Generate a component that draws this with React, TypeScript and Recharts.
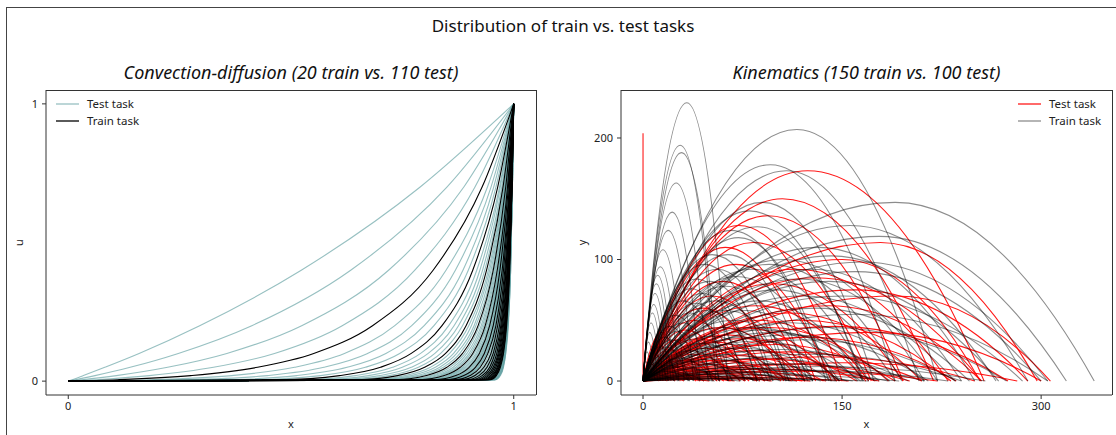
import { Line, LineChart, XAxis, YAxis } from "recharts";

// convection-diffusion: x position where each curve reaches these u levels
const CD_LEVELS = [0.005, 0.02, 0.05, 0.1, 0.2, 0.4, 0.7];

const CD_TEST = [
  [0.009, 0.034, 0.082, 0.159, 0.295, 0.523, 0.79],
  [0.016, 0.06, 0.139, 0.247, 0.412, 0.634, 0.85],
  [0.03, 0.108, 0.223, 0.356, 0.524, 0.719, 0.888],
  [0.059, 0.182, 0.326, 0.463, 0.615, 0.778, 0.913],
  [0.184, 0.367, 0.508, 0.62, 0.733, 0.848, 0.941],
  [0.267, 0.447, 0.574, 0.672, 0.771, 0.869, 0.949],
  [0.346, 0.513, 0.626, 0.713, 0.799, 0.886, 0.955],
  [0.414, 0.566, 0.667, 0.744, 0.821, 0.898, 0.96],
  [0.518, 0.644, 0.728, 0.791, 0.854, 0.917, 0.968],
  [0.559, 0.674, 0.75, 0.808, 0.866, 0.924, 0.97],
  [0.592, 0.699, 0.77, 0.823, 0.876, 0.93, 0.973],
  [0.622, 0.721, 0.786, 0.836, 0.885, 0.935, 0.975],
  [0.669, 0.756, 0.813, 0.856, 0.899, 0.943, 0.978],
  [0.688, 0.77, 0.824, 0.865, 0.905, 0.946, 0.979],
  [0.706, 0.783, 0.834, 0.872, 0.911, 0.949, 0.98],
  [0.721, 0.794, 0.842, 0.879, 0.915, 0.952, 0.981],
  [0.748, 0.814, 0.857, 0.89, 0.923, 0.956, 0.983],
  [0.759, 0.822, 0.864, 0.895, 0.927, 0.958, 0.984],
  [0.77, 0.83, 0.87, 0.9, 0.93, 0.96, 0.984],
  [0.779, 0.837, 0.875, 0.904, 0.933, 0.962, 0.985],
  [0.796, 0.85, 0.885, 0.911, 0.938, 0.965, 0.986],
  [0.804, 0.855, 0.889, 0.915, 0.94, 0.966, 0.987],
  [0.811, 0.86, 0.893, 0.918, 0.943, 0.967, 0.987],
  [0.817, 0.865, 0.897, 0.921, 0.945, 0.968, 0.988],
  [0.829, 0.874, 0.903, 0.926, 0.948, 0.97, 0.988],
  [0.834, 0.878, 0.906, 0.928, 0.95, 0.971, 0.989],
  [0.839, 0.881, 0.909, 0.93, 0.951, 0.972, 0.989],
  [0.844, 0.885, 0.912, 0.932, 0.953, 0.973, 0.99],
  [0.853, 0.891, 0.917, 0.936, 0.955, 0.975, 0.99],
  [0.857, 0.894, 0.919, 0.938, 0.957, 0.975, 0.99],
  [0.861, 0.897, 0.921, 0.939, 0.958, 0.976, 0.991],
  [0.864, 0.9, 0.923, 0.941, 0.959, 0.977, 0.991],
  [0.874, 0.907, 0.929, 0.945, 0.962, 0.978, 0.991],
  [0.88, 0.911, 0.932, 0.948, 0.963, 0.979, 0.992],
  [0.887, 0.917, 0.936, 0.951, 0.966, 0.981, 0.992],
  [0.892, 0.92, 0.939, 0.953, 0.967, 0.981, 0.993],
  [0.898, 0.925, 0.942, 0.956, 0.969, 0.982, 0.993],
  [0.902, 0.928, 0.945, 0.957, 0.97, 0.983, 0.993],
  [0.907, 0.931, 0.947, 0.96, 0.972, 0.984, 0.994],
  [0.91, 0.934, 0.949, 0.961, 0.973, 0.984, 0.994],
  [0.915, 0.937, 0.952, 0.963, 0.974, 0.985, 0.994],
  [0.917, 0.939, 0.953, 0.964, 0.975, 0.986, 0.994],
  [0.921, 0.942, 0.955, 0.966, 0.976, 0.986, 0.995],
  [0.923, 0.943, 0.957, 0.967, 0.977, 0.987, 0.995],
  [0.926, 0.946, 0.958, 0.968, 0.978, 0.987, 0.995],
  [0.928, 0.947, 0.96, 0.969, 0.978, 0.988, 0.995],
  [0.931, 0.949, 0.961, 0.97, 0.979, 0.988, 0.995],
  [0.933, 0.95, 0.962, 0.971, 0.98, 0.988, 0.995],
  [0.935, 0.952, 0.963, 0.972, 0.98, 0.989, 0.996],
  [0.937, 0.953, 0.964, 0.973, 0.981, 0.989, 0.996],
  [0.939, 0.955, 0.966, 0.974, 0.982, 0.989, 0.996],
  [0.94, 0.956, 0.966, 0.974, 0.982, 0.99, 0.996],
  [0.942, 0.957, 0.967, 0.975, 0.983, 0.99, 0.996],
  [0.944, 0.958, 0.968, 0.976, 0.983, 0.99, 0.996],
  [0.945, 0.96, 0.969, 0.976, 0.983, 0.991, 0.996],
  [0.946, 0.96, 0.97, 0.977, 0.984, 0.991, 0.996],
  [0.949, 0.962, 0.971, 0.978, 0.984, 0.991, 0.997],
  [0.95, 0.963, 0.972, 0.978, 0.985, 0.991, 0.997],
  [0.952, 0.965, 0.973, 0.979, 0.986, 0.992, 0.997],
  [0.954, 0.966, 0.974, 0.98, 0.986, 0.992, 0.997],
  [0.955, 0.967, 0.975, 0.981, 0.986, 0.992, 0.997],
  [0.957, 0.968, 0.976, 0.981, 0.987, 0.993, 0.997],
  [0.958, 0.969, 0.976, 0.982, 0.987, 0.993, 0.997],
  [0.959, 0.97, 0.977, 0.982, 0.988, 0.993, 0.997],
];

const CD_TRAIN = [
  [0.11, 0.275, 0.425, 0.551, 0.683, 0.819, 0.929],
  [0.471, 0.609, 0.701, 0.77, 0.839, 0.908, 0.964],
  [0.647, 0.739, 0.8, 0.847, 0.893, 0.939, 0.976],
  [0.735, 0.804, 0.85, 0.885, 0.92, 0.954, 0.982],
  [0.788, 0.844, 0.88, 0.908, 0.936, 0.963, 0.986],
  [0.823, 0.87, 0.9, 0.923, 0.946, 0.969, 0.988],
  [0.849, 0.888, 0.914, 0.934, 0.954, 0.974, 0.99],
  [0.868, 0.902, 0.925, 0.942, 0.96, 0.977, 0.991],
  [0.882, 0.913, 0.933, 0.949, 0.964, 0.98, 0.992],
  [0.894, 0.922, 0.94, 0.954, 0.968, 0.982, 0.993],
  [0.904, 0.929, 0.946, 0.958, 0.971, 0.983, 0.994],
  [0.912, 0.935, 0.95, 0.962, 0.973, 0.985, 0.994],
  [0.918, 0.94, 0.954, 0.965, 0.975, 0.986, 0.995],
  [0.924, 0.944, 0.957, 0.967, 0.977, 0.987, 0.995],
  [0.929, 0.948, 0.96, 0.969, 0.979, 0.988, 0.995],
  [0.934, 0.951, 0.963, 0.971, 0.98, 0.989, 0.996],
  [0.938, 0.954, 0.965, 0.973, 0.981, 0.989, 0.996],
  [0.941, 0.957, 0.967, 0.974, 0.982, 0.99, 0.996],
  [0.944, 0.959, 0.968, 0.976, 0.983, 0.99, 0.996],
  [0.947, 0.961, 0.97, 0.977, 0.984, 0.991, 0.996],
];

// kinematics: [apex x, apex y, landing x]
const KIN_TRAIN = [
  [33, 229, 64], [28, 194, 55], [29, 188, 57], [25, 163, 49], [22, 139, 43], [19, 124, 38],
  [15, 108, 31], [13, 94, 27], [11, 87, 23], [10, 80, 21], [9, 72, 19], [8, 63, 17],
  [7, 56, 15], [6, 48, 13], [5, 40, 11], [4, 32, 9], [3, 24, 7], [2, 16, 5],
  [116, 207, 222], [96, 178, 190], [108, 173, 208], [90, 147, 174], [86, 127, 166], [72, 118, 140],
  [64, 104, 124], [56, 92, 108], [50, 82, 96], [45, 72, 86], [40, 64, 77], [35, 56, 67],
  [30, 48, 58], [26, 41, 50], [22, 34, 42], [18, 28, 34], [14, 21, 27], [10, 15, 19],
  [190, 147, 340], [156, 128, 290], [178, 119, 319], [142, 103, 266], [128, 92, 240], [118, 84, 222],
  [100, 75, 190], [88, 66, 166], [78, 58, 148], [68, 50, 128], [60, 44, 113], [52, 37, 98],
  [44, 31, 83], [36, 25, 68], [28, 19, 53], [20, 13, 38],
  [150, 70, 286], [160, 55, 305], [130, 60, 246], [140, 44, 274], [112, 48, 212], [98, 40, 186],
  [122, 34, 236], [86, 33, 164], [74, 27, 142], [104, 26, 200], [64, 22, 122], [54, 18, 103],
  [92, 19, 176], [44, 14, 84], [80, 15, 154], [34, 10, 65], [70, 11, 134], [24, 7, 46],
  [58, 8, 111], [46, 6, 88],
  [110, 14, 212], [96, 10, 185], [120, 9, 230], [82, 7, 158], [66, 6, 127], [100, 5, 193],
  [50, 4, 96], [76, 3, 146], [38, 3, 73], [60, 2, 116], [28, 2, 54], [88, 2, 170],
  [80, 140, 165], [66, 124, 138], [52, 104, 110], [46, 96, 98], [40, 84, 86], [36, 76, 76],
  [30, 66, 64], [24, 54, 52], [20, 45, 43], [16, 36, 35], [12, 28, 26], [70, 86, 145],
  [62, 78, 128], [82, 92, 170], [95, 96, 195], [105, 100, 212], [132, 110, 250], [165, 98, 305],
  [120, 70, 235], [140, 82, 268], [160, 90, 300], [90, 42, 178], [110, 38, 215], [126, 22, 240],
  [136, 12, 258], [48, 22, 92], [38, 16, 74], [30, 12, 58], [18, 8, 35], [12, 5, 24],
  [56, 28, 108], [66, 30, 128], [76, 36, 148], [84, 44, 162], [62, 58, 122], [55, 66, 110],
  [48, 58, 94],
];

const KIN_TEST = [
  [0, 204, 0],
  [124, 173, 257], [105, 150, 219], [94, 136, 196], [83, 114, 172], [179, 114, 297], [150, 100, 254],
  [70, 96, 142], [60, 82, 122], [52, 70, 106], [45, 60, 91], [38, 50, 77], [32, 42, 65],
  [26, 34, 53], [20, 26, 41],
  [191, 70, 307], [140, 62, 255], [110, 56, 210], [88, 50, 168], [76, 44, 146], [64, 38, 122],
  [54, 32, 104], [46, 27, 88], [38, 22, 73], [30, 17, 58], [22, 12, 43],
  [125, 36, 236], [100, 30, 190], [84, 25, 161], [70, 21, 136], [58, 17, 112], [48, 14, 92],
  [40, 11, 77], [32, 9, 61], [24, 6, 46], [16, 4, 31],
  [105, 14, 201], [92, 10, 178], [72, 8, 138], [62, 6, 120], [50, 4, 97], [36, 3, 69],
  [26, 2, 50], [80, 3, 155], [66, 2, 126],
  [12, 30, 24], [9, 22, 18], [6, 14, 12], [14, 40, 28],
  [72, 128, 150], [62, 110, 130], [115, 92, 230], [98, 80, 196], [130, 85, 255], [160, 75, 290],
  [85, 62, 170], [120, 50, 232], [145, 45, 275], [170, 40, 300], [95, 44, 185], [75, 35, 148],
  [58, 44, 118], [42, 35, 86], [110, 24, 210], [135, 20, 250], [90, 18, 175], [150, 15, 282],
  [60, 12, 116], [40, 18, 80], [28, 12, 56], [20, 9, 40], [118, 8, 222], [44, 8, 86], [34, 5, 66],
];

const CD_X_TICKS = [0, 1];
const CD_Y_TICKS = [0, 1];
const KIN_X_TICKS = [0, 150, 300];
const KIN_Y_TICKS = [0, 100, 200];

const FONT = "'Noto Sans', 'DejaVu Sans', sans-serif";
const TEAL = "#5f9ea0";

const cdSeries = (xs: number[]) => [
  { x: 0, u: 0 },
  ...xs.map((x, i) => ({ x, u: CD_LEVELS[i] })),
  { x: 1, u: 1 },
];

const kinSeries = (t: number[]) => [
  { x: 0, y: 0 },
  { x: t[0], y: t[1] },
  { x: t[2], y: 0 },
];

// draws launch -> apex -> landing as two parabolic halves, flat at the apex
const arcCurve = (ctx: any) => {
  let pts: number[][] = [];
  return {
    areaStart() {},
    areaEnd() {},
    lineStart() {
      pts = [];
    },
    point(x: number, y: number) {
      pts.push([+x, +y]);
    },
    lineEnd() {
      if (!pts.length) return;
      ctx.moveTo(pts[0][0], pts[0][1]);
      for (let i = 1; i < pts.length; i++) {
        const [x0, y0] = pts[i - 1];
        const [x1, y1] = pts[i];
        const cy = i === 1 ? y1 : y0;
        ctx.quadraticCurveTo((x0 + x1) / 2, cy, x1, y1);
      }
    },
  };
};

const tickStyle = { fontSize: 11, fill: "#222", fontFamily: FONT };
const labelStyle = { fontSize: 11, fill: "#222", fontFamily: FONT };

function LegendBox({ items, left }: { items: { name: string; color: string; opacity: number }[]; left: number }) {
  return (
    <div style={{ position: "absolute", left, top: 95, fontFamily: FONT, fontSize: 11.5, color: "#222" }}>
      {items.map((it) => (
        <div key={it.name} style={{ display: "flex", alignItems: "center", height: 17 }}>
          <svg width={23} height={4} style={{ marginRight: 8 }}>
            <line x1={0} y1={2} x2={23} y2={2} stroke={it.color} strokeOpacity={it.opacity} strokeWidth={1.3} />
          </svg>
          <span>{it.name}</span>
        </div>
      ))}
    </div>
  );
}

// top and right spines of a matplotlib-style box
function Frame({ left, width }: { left: number; width: number }) {
  return (
    <div style={{ position: "absolute", left, top: 90, width, height: 305, borderTop: "1px solid #333", borderRight: "1px solid #333", boxSizing: "border-box", pointerEvents: "none" }} />
  );
}

export default function App() {
  return (
    <div style={{ position: "absolute", left: 0, top: 0, width: 1116, height: 435, background: "#fff", overflow: "hidden", fontFamily: FONT }}>
      <div style={{ position: "absolute", left: 6, top: 7, width: 1120, height: 440, borderTop: "1px solid #444", borderLeft: "1px solid #444" }} />
      <div style={{ position: "absolute", left: 0, width: 1126, top: 14, textAlign: "center", fontSize: 17, color: "#111" }}>
        Distribution of train vs. test tasks
      </div>
      <div style={{ position: "absolute", left: 46, width: 490, top: 60, textAlign: "center", fontSize: 18, fontStyle: "italic", color: "#111" }}>
        Convection-diffusion (20 train vs. 110 test)
      </div>
      <div style={{ position: "absolute", left: 621, width: 491, top: 60, textAlign: "center", fontSize: 18, fontStyle: "italic", color: "#111" }}>
        Kinematics (150 train vs. 100 test)
      </div>

      <div style={{ position: "absolute", left: 0, top: 0 }}>
        <LineChart width={560} height={435} margin={{ top: 90, right: 24, bottom: 0, left: 0 }}>
          <XAxis dataKey="x" type="number" domain={[-0.05, 1.05]} ticks={CD_X_TICKS} allowDataOverflow
            height={40} tickSize={4} tickMargin={3} tick={tickStyle} stroke="#333"
            label={{ value: "x", position: "insideBottom", offset: 7, style: labelStyle }} />
          <YAxis dataKey="u" type="number" domain={[-0.05, 1.05]} ticks={CD_Y_TICKS} allowDataOverflow
            width={46} tickSize={4} tickMargin={4} tick={tickStyle} stroke="#333"
            label={{ value: "u", angle: -90, position: "insideLeft", offset: 19, style: { ...labelStyle, textAnchor: "middle" } }} />
          {CD_TEST.map((xs, i) => (
            <Line key={"t" + i} data={cdSeries(xs)} dataKey="u" type="monotone" stroke={TEAL} strokeOpacity={0.65}
              strokeWidth={1.1} dot={false} activeDot={false} isAnimationActive={false} />
          ))}
          {CD_TRAIN.map((xs, i) => (
            <Line key={"r" + i} data={cdSeries(xs)} dataKey="u" type="monotone" stroke="#000"
              strokeWidth={1.1} dot={false} activeDot={false} isAnimationActive={false} />
          ))}
        </LineChart>
      </div>

      <div style={{ position: "absolute", left: 560, top: 0 }}>
        <LineChart width={556} height={435} margin={{ top: 90, right: 4, bottom: 0, left: 0 }}>
          <XAxis dataKey="x" type="number" domain={[-16.6, 353.4]} ticks={KIN_X_TICKS} allowDataOverflow
            height={40} tickSize={4} tickMargin={3} tick={tickStyle} stroke="#333"
            label={{ value: "x", position: "insideBottom", offset: 7, style: labelStyle }} />
          <YAxis dataKey="y" type="number" domain={[-11.5, 239.5]} ticks={KIN_Y_TICKS} allowDataOverflow
            width={61} tickSize={4} tickMargin={4} tick={tickStyle} stroke="#333"
            label={{ value: "y", angle: -90, position: "insideLeft", offset: 22, style: { ...labelStyle, textAnchor: "middle" } }} />
          {KIN_TEST.map((t, i) => (
            <Line key={"t" + i} data={kinSeries(t)} dataKey="y" type={arcCurve as any} stroke="#ff0000" strokeOpacity={0.9}
              strokeWidth={1.1} dot={false} activeDot={false} isAnimationActive={false} />
          ))}
          {KIN_TRAIN.map((t, i) => (
            <Line key={"r" + i} data={kinSeries(t)} dataKey="y" type={arcCurve as any} stroke="#000" strokeOpacity={0.45}
              strokeWidth={1.1} dot={false} activeDot={false} isAnimationActive={false} />
          ))}
        </LineChart>
      </div>

      <Frame left={46} width={491} />
      <Frame left={621} width={492} />

      <LegendBox left={56} items={[{ name: "Test task", color: TEAL, opacity: 0.65 }, { name: "Train task", color: "#000", opacity: 1 }]} />
      <LegendBox left={1018} items={[{ name: "Test task", color: "#ff0000", opacity: 0.9 }, { name: "Train task", color: "#000", opacity: 0.45 }]} />
    </div>
  );
}
